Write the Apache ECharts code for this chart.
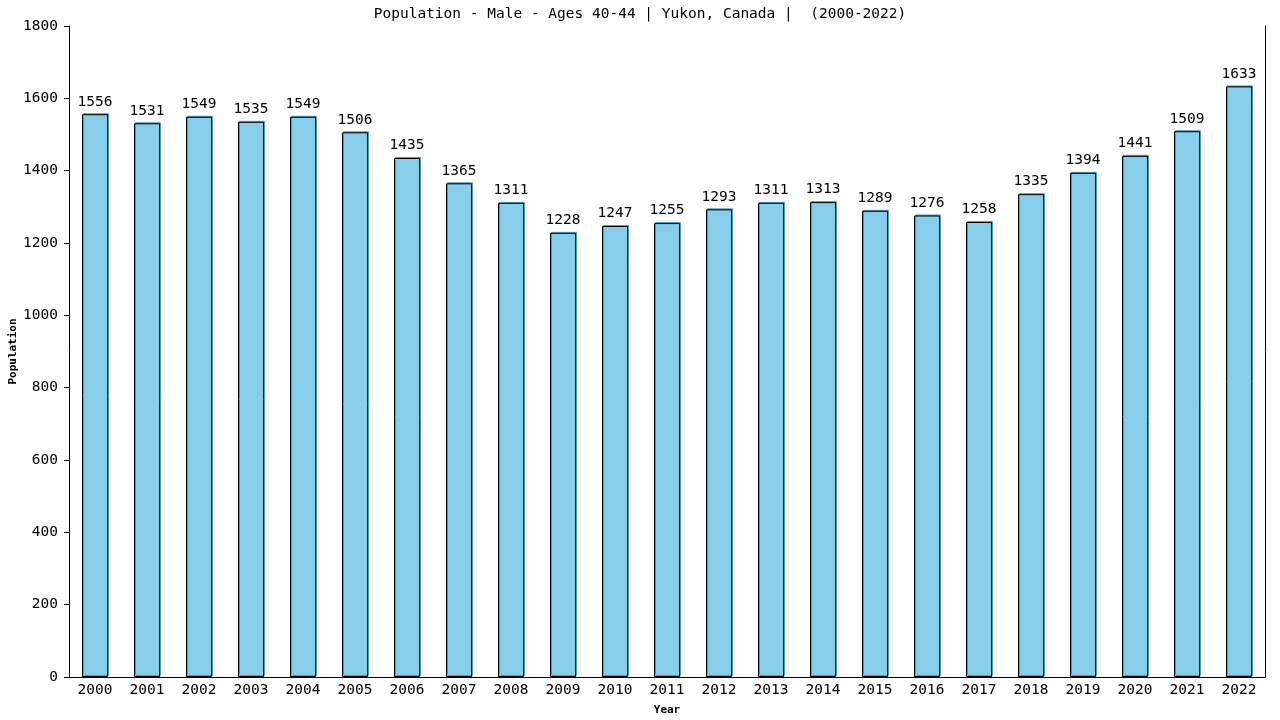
<!DOCTYPE html>
<html>
<head>
<meta charset="utf-8">
<script src="https://cdn.jsdelivr.net/npm/echarts@6/dist/echarts.min.js"></script>
<style>
html, body { margin: 0; padding: 0; background: #fff; }
#chart { width: 1280px; height: 720px; }
</style>
</head>
<body>
<div id="chart"></div>
<script>
var years = ['2000','2001','2002','2003','2004','2005','2006','2007','2008','2009','2010','2011',
             '2012','2013','2014','2015','2016','2017','2018','2019','2020','2021','2022'];
var population = [1556,1531,1549,1535,1549,1506,1435,1365,1311,1228,1247,1255,
                  1293,1311,1313,1289,1276,1258,1335,1394,1441,1509,1633];

var mono = '"DejaVu Sans Mono", monospace';
var chart = echarts.init(document.getElementById('chart'));

var option = {
    animation: false,
    title: {
        text: 'Population - Male - Ages 40-44 | Yukon, Canada |  (2000-2022)',
        left: 'center',
        top: 2,
        textStyle: { fontFamily: mono, fontSize: 14.5, fontWeight: 'normal', color: '#000' }
    },
    grid: {
        left: 69,
        right: 15,
        top: 26,
        bottom: 43,
        containLabel: false,
        outerBoundsMode: 'none'
    },
    xAxis: {
        type: 'category',
        data: years,
        name: 'Year',
        nameLocation: 'middle',
        nameGap: 28,
        nameTextStyle: { fontFamily: mono, fontSize: 11, fontWeight: 'bold', color: '#000' },
        axisLine: { lineStyle: { color: '#000', width: 1 } },
        axisTick: { show: false },
        axisLabel: { fontFamily: mono, fontSize: 14.5, color: '#000', margin: 6 },
        splitLine: { show: false }
    },
    yAxis: [{
        type: 'value',
        min: 0,
        max: 1800,
        interval: 200,
        name: 'Population',
        nameLocation: 'middle',
        nameGap: 50,
        nameMoveOverlap: false,
        nameTextStyle: { fontFamily: mono, fontSize: 11, fontWeight: 'bold', color: '#000' },
        axisLine: { show: true, lineStyle: { color: '#000', width: 1 } },
        axisTick: { show: true, length: 5, lineStyle: { color: '#000' } },
        axisLabel: {
            fontFamily: mono, fontSize: 14.5, color: '#000', margin: 11,
            formatter: function (v) { return String(v); }
        },
        splitLine: { show: false }
    }, {
        type: 'value',
        position: 'right',
        min: 0,
        max: 1800,
        interval: 200,
        axisLine: { show: true, lineStyle: { color: '#000', width: 1 } },
        axisTick: { show: false },
        axisLabel: { show: false },
        splitLine: { show: false }
    }],
    series: [{
        type: 'bar',
        data: population,
        barWidth: '50%',
        itemStyle: {
            color: '#87ceeb',
            borderColor: '#000',
            borderWidth: 1,
            shadowColor: '#4a9cc4',
            shadowOffsetX: 1,
            shadowOffsetY: -1,
            shadowBlur: 0
        },
        label: {
            show: true,
            position: 'top',
            distance: 5,
            fontFamily: mono,
            fontSize: 14.5,
            color: '#000'
        }
    }]
};

chart.setOption(option);
</script>
</body>
</html>
